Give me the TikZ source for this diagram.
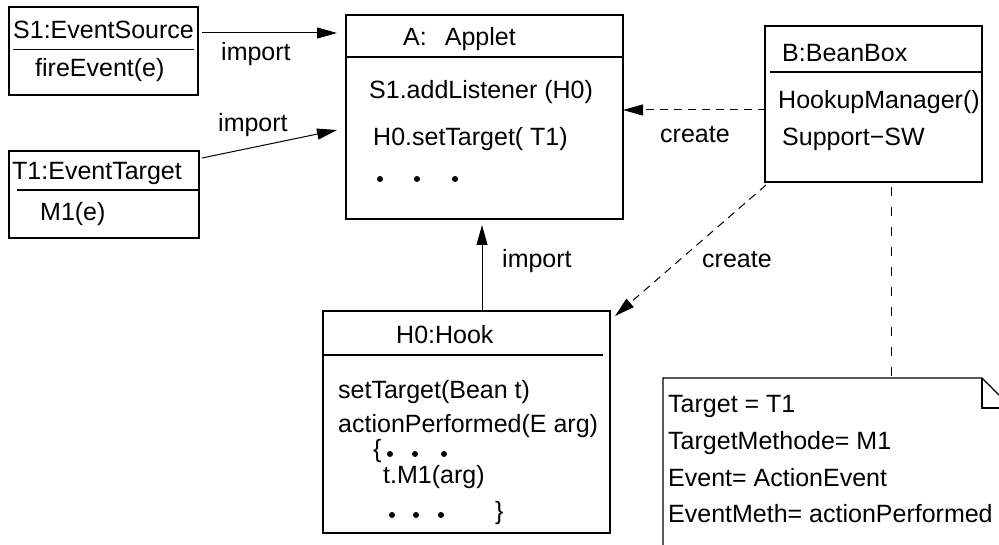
\documentclass[tikz,border=0pt]{standalone}
\usepackage{fontspec}
\setmainfont{Liberation Sans}
\usetikzlibrary{arrows.meta}
\newcommand\dfont{\fontsize{25}{30}\selectfont}
\tikzset{
  box/.style={draw, line width=2pt, outer sep=0pt, inner sep=0pt},
  sepline/.style={line width=1.8pt},
  txt/.style={anchor=base west, inner sep=0pt, font=\dfont},
  tipA/.style={-{Triangle[length=20pt,width=11pt]}},
  imp/.style={tipA, line width=1pt},
  crt/.style={tipA, line width=1pt, dash pattern=on 8pt off 6pt},
  link/.style={line width=1pt, dash pattern=on 9pt off 11pt},
  notec/.style={line width=1.3pt, line join=miter},
  dot/.style={fill=black}
}
\begin{document}
\begin{tikzpicture}[x=1pt, y=-1pt]
\clip (0,0) rectangle (999,545);

% class boxes
\node[box, minimum width=189pt, minimum height=87.5pt] (S1) at (103.5,51.25) {};
\node[box, minimum width=190pt, minimum height=87pt]   (T1) at (104,194.5) {};
\node[box, minimum width=277pt, minimum height=204pt]  (A)  at (484.5,117) {};
\node[box, minimum width=217pt, minimum height=156pt]  (B)  at (873.5,104) {};
\node[box, minimum width=287pt, minimum height=222pt]  (H0) at (466.5,422) {};

% compartment separators
\draw[sepline] (13,49.5) -- (194,49.5);
\draw[sepline] (17,190) -- (199,190);
\draw[sepline] (346,57) -- (623,57);
\draw[sepline] (770,72) -- (982,72);
\draw[sepline] (323,355) -- (603,355);

% note with folded corner
\draw[notec] (663,548) -- (663,378) -- (982,378) -- (1012,408) -- (1012,548);
\draw[notec] (982,378) -- (982,408) -- (1012,408);
\coordinate (note) at (891,378);

% S1
\node[txt] (s1t) at (13,39) {S1:EventSource};
\node[txt] (s1m) at (35,77) {fireEvent(e)};
% T1
\node[txt] (t1t) at (12,180) {T1:EventTarget};
\node[txt] (t1m) at (40,221) {M1(e)};
% A
\node[txt] (at) at (403,46) {A:\hspace{18pt}Applet};
\node[txt] (am1) at (369,99) {S1.addListener (H0)};
\node[txt] (am2) at (373,146) {H0.setTarget( T1)};
\fill[dot] (380,179) circle[radius=3pt] (417,179) circle[radius=3pt] (455,179) circle[radius=3pt];
% B
\node[txt] (bt) at (782,62) {B:BeanBox};
\node[txt] (bm1) at (778,109) {HookupManager()};
\node[txt] (bm2) at (782,146) {Support−SW};
% H0
\node[txt] (ht) at (396,344) {H0:Hook};
\node[txt] (hm1) at (338,398) {setTarget(Bean t)};
\node[txt] (hm2) at (338,432) {actionPerformed(E arg)};
\node[txt] (hb1) at (373,457) {\{};
\fill[dot] (390,454) circle[radius=3pt] (415,454) circle[radius=3pt] (444,454) circle[radius=3pt];
\node[txt] (hm3) at (383,483) {t.M1(arg)};
\fill[dot] (392,515) circle[radius=3pt] (416,515) circle[radius=3pt] (441,515) circle[radius=3pt];
\node[txt] (hb2) at (495,519) {\}};
% note text
\node[txt] (n1) at (668,412) {Target = T1};
\node[txt] (n2) at (668,449) {TargetMethode= M1};
\node[txt] (n3) at (668,486) {Event= ActionEvent};
\node[txt] (n4) at (668,522) {EventMeth= actionPerformed};

% connectors
\draw[imp] ([xshift=4pt,yshift=-25.5pt]S1.north east) -- ([xshift=-9pt,yshift=-18pt]A.north west);
\draw[imp] ([xshift=3pt,yshift=-7pt]T1.north east) -- ([xshift=-9pt,yshift=-115pt]A.north west);
\draw[imp] ([xshift=15.5pt]H0.north) -- ([xshift=-2.5pt,yshift=-6pt]A.south);
\draw[crt] ([xshift=1pt,yshift=-6pt]B.west) -- ([yshift=7pt]A.east);
\draw[crt] ([xshift=1pt,yshift=-3pt]B.south west) -- ([xshift=5pt,yshift=-5pt]H0.north east);
\draw[link] ([xshift=17.5pt,yshift=-5pt]B.south) -- (note);

% connector labels
\node[txt] (l1) at (221,61) {import};
\node[txt] (l2) at (218,132) {import};
\node[txt] (l3) at (502,268) {import};
\node[txt] (l4) at (660,143) {create};
\node[txt] (l5) at (702,268) {create};
\end{tikzpicture}
\end{document}
